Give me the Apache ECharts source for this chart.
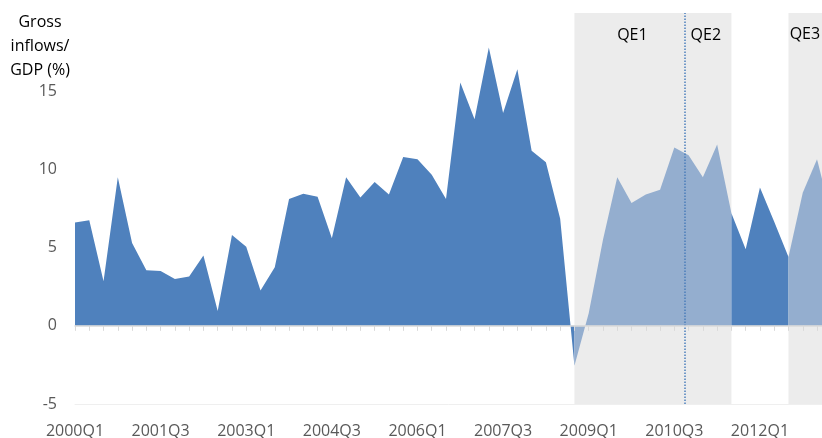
<!DOCTYPE html>
<html>
<head>
<meta charset="utf-8">
<script src="https://cdn.jsdelivr.net/npm/echarts@6/dist/echarts.min.js"></script>
<style>html,body{margin:0;padding:0;background:#fff}#c{width:822px;height:438px}</style>
</head>
<body>
<div id="c"></div>
<script>
// Quarterly gross inflows / GDP (%), 2000Q1 .. 2013Q2 (index 0..53)
const values = [
  6.6, 6.75, 2.85, 9.5, 5.3, 3.55, 3.5, 3.0, 3.15, 4.5,
  0.95, 5.8, 5.05, 2.25, 3.75, 8.1, 8.45, 8.25, 5.6, 9.5,
  8.2, 9.2, 8.4, 10.8, 10.65, 9.65, 8.1, 15.55, 13.2, 17.8,
  13.6, 16.4, 11.2, 10.45, 6.85, -2.55, 0.8, 5.5, 9.5, 7.85,
  8.4, 8.7, 11.4, 10.9, 9.5, 11.6, 7.2, 4.9, 8.85, 6.65,
  4.4, 8.5, 10.65, 7.0
];
const tickLabels = ['2000Q1','2001Q3','2003Q1','2004Q3','2006Q1','2007Q3','2009Q1','2010Q3','2012Q1'];
const tickStep = 6;
// QE windows (quarter indices)
const qeWindows = [[35, 46], [50, 53]];
const qe2Start = 42.7;
const qeNames = ['QE1', 'QE2', 'QE3'];
const yTicks = [-5, 0, 5, 10, 15];

const FONT = 'Open Sans';
const DARK = '#4f81bd';
const LIGHT = '#94aecf';
const lastIdx = values.length - 1;

// build segments: dark outside QE windows, light inside
const segments = [];
let cursor = 0;
qeWindows.forEach(w => {
  if (w[0] > cursor) segments.push({from: cursor, to: w[0], color: DARK});
  segments.push({from: w[0], to: Math.min(w[1], lastIdx), color: LIGHT});
  cursor = w[1];
});
if (cursor < lastIdx) segments.push({from: cursor, to: lastIdx, color: DARK});

const areaSeries = segments.map(s => {
  const d = [];
  for (let i = s.from; i <= s.to; i++) d.push([i, values[i]]);
  return {
    type: 'line', data: d, z: 2, symbol: 'none', showSymbol: false, silent: true,
    lineStyle: {width: 0, color: s.color},
    itemStyle: {color: s.color},
    areaStyle: {color: s.color, opacity: 1}
  };
});

const chart = echarts.init(document.getElementById('c'), null, {renderer: 'canvas'});
chart.setOption({
  animation: false,
  grid: {left: 75, top: 13, bottom: 34, width: 756.3, containLabel: false, outerBoundsMode: 'none'},
  graphic: [{
    type: 'text', x: 40, y: 10,
    style: {text: 'Gross\ninflows/\nGDP (%)', textAlign: 'center', textVerticalAlign: 'top',
      fontSize: 16, lineHeight: 24, fontFamily: FONT, fill: '#000'}
  }],
  xAxis: [
    {
      type: 'value', min: 0, max: lastIdx, interval: 1, position: 'bottom',
      axisLine: {onZero: false, lineStyle: {color: '#efefef', width: 1}},
      axisTick: {show: false}, splitLine: {show: false},
      axisLabel: {
        margin: 19, color: '#595959', fontSize: 16, fontFamily: FONT,
        formatter: v => (v % tickStep === 0 && tickLabels[v / tickStep]) ? tickLabels[v / tickStep] : ''
      }
    },
    {
      type: 'value', min: 0, max: lastIdx, interval: 1, position: 'bottom', z: 5,
      axisLine: {onZero: true, lineStyle: {color: '#d9d9d9', width: 1.5}},
      axisTick: {show: true, length: 5, lineStyle: {color: '#d9d9d9', width: 1}},
      axisLabel: {show: false}, splitLine: {show: false}
    }
  ],
  yAxis: {
    type: 'value', min: -5, max: 20, interval: 5,
    axisLine: {show: false}, axisTick: {show: false}, splitLine: {show: false},
    axisLabel: {
      margin: 18, color: '#595959', fontSize: 16, fontFamily: FONT, padding: [4, 0, 0, 0],
      formatter: v => yTicks.indexOf(v) >= 0 ? String(v) : ''
    }
  },
  series: [
    {
      type: 'line', data: [], z: 1, silent: true,
      markArea: {
        silent: true,
        itemStyle: {color: '#ececec'},
        label: {position: 'insideTop', distance: 14, color: '#000', fontSize: 16, fontFamily: FONT},
        data: [
          [{xAxis: qeWindows[0][0], name: qeNames[0], label: {offset: [3, 0]}}, {xAxis: qe2Start}],
          [{xAxis: qe2Start, name: qeNames[1], label: {offset: [-2, 0]}}, {xAxis: qeWindows[0][1]}],
          [{xAxis: qeWindows[1][0], name: qeNames[2], label: {offset: [-5, -1]}}, {xAxis: qeWindows[1][1]}]
        ]
      }
    },
    ...areaSeries,
    {
      type: 'line', data: [], z: 4, silent: true,
      markLine: {
        silent: true, symbol: 'none', label: {show: false},
        lineStyle: {color: '#4a7ebb', type: 'dotted', width: 1.5},
        data: [{xAxis: qe2Start}]
      }
    }
  ]
});
</script>
</body>
</html>
